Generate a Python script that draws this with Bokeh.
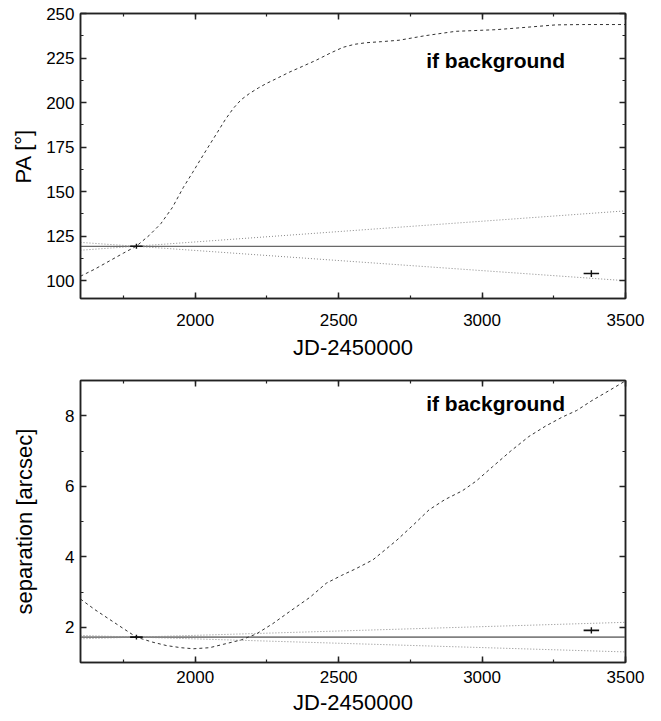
from bokeh.plotting import figure
from bokeh.layouts import column
from bokeh.models import LinearAxis, SingleIntervalTicker, Range1d, CustomJSTickFormatter
from bokeh.core.properties import value
from bokeh.embed import file_html
from bokeh.resources import INLINE

# ---------------- data ----------------
jd_range = [1600, 3500]
cone_jd = [1600, 3500]

# PA panel
pa_fit = 119.3
pa_cone_a = [117.1, 139.2]
pa_cone_b = [121.5, 100.0]
bg_jd_pa = [1600, 1650, 1700, 1750, 1795, 1840, 1880, 1920, 1959, 1990, 2017, 2045,
            2075, 2105, 2133, 2160, 2190, 2220, 2248, 2290, 2330, 2375, 2422, 2470,
            2515, 2555, 2596, 2650, 2711, 2800, 2908, 3000, 3047, 3150, 3256, 3350, 3500]
bg_pa = [102.5, 106.5, 111.0, 115.5, 119.4, 125.5, 132.0, 141.0, 152.5, 160.5, 167.7, 175.0,
         182.7, 190.5, 196.8, 201.6, 205.2, 208.2, 210.7, 214.0, 217.2, 220.4, 223.8, 227.7,
         231.0, 232.7, 233.6, 234.2, 235.0, 237.5, 240.0, 240.6, 240.9, 242.2, 243.6, 243.8, 243.8]
obs_jd = [1795, 3381]
obs_jd_err = [22, 27]
obs_pa = [119.3, 104.0]
obs_pa_err = [1.4, 1.9]

# separation panel
sep_fit = 1.72
sep_cone_a = [1.672, 2.14]
sep_cone_b = [1.768, 1.30]
bg_jd_sep = [1600, 1650, 1700, 1750, 1795, 1850, 1900, 1950, 1994, 2050, 2100, 2160, 2213,
             2270, 2330, 2400, 2457, 2510, 2560, 2619, 2700, 2760, 2815, 2870, 2931, 2980,
             3036, 3100, 3163, 3220, 3279, 3330, 3383, 3440, 3500]
bg_sep = [2.80, 2.50, 2.23, 1.96, 1.72, 1.58, 1.48, 1.42, 1.39, 1.42, 1.52, 1.64, 1.81,
          2.10, 2.45, 2.85, 3.25, 3.47, 3.66, 3.91, 4.45, 4.90, 5.33, 5.62, 5.87, 6.15,
          6.55, 7.00, 7.41, 7.70, 7.96, 8.15, 8.43, 8.70, 8.99]
obs_sep = [1.72, 1.91]
obs_sep_err = [0.07, 0.09]

label_text = "if background"
label_x = 2805
label_y_pa = 223.7
label_y_sep = 8.35

FONT = "Liberation Sans"
AX = "#222222"


def style_axis(ax, show_labels=True):
    ax.major_tick_in = 6
    ax.major_tick_out = 0
    ax.minor_tick_in = 3
    ax.minor_tick_out = 0
    ax.axis_line_color = AX
    ax.axis_line_width = 1.5
    ax.major_tick_line_color = AX
    ax.major_tick_line_width = 1.5
    ax.minor_tick_line_color = AX
    ax.minor_tick_line_width = 1.2
    ax.major_label_text_font = FONT
    ax.axis_label_text_font = FONT
    ax.axis_label_text_font_style = "normal"
    ax.axis_label_text_font_size = "22px"
    ax.axis_label_text_color = "black"
    if show_labels:
        ax.major_label_text_font_size = "17px"
        ax.major_label_text_color = "black"
    else:
        ax.formatter = CustomJSTickFormatter(code="return ''")
        ax.major_label_text_color = None
        ax.major_label_standoff = 0


def make_panel(height, yr, yint, top_border, bottom_border, ylabel, ylab_standoff,
               xlab_standoff, xaxlab_standoff):
    p = figure(width=650, height=height, output_backend="svg", toolbar_location=None,
               x_range=Range1d(*jd_range), y_range=Range1d(*yr),
               min_border_left=80, min_border_right=25,
               min_border_top=top_border, min_border_bottom=bottom_border)
    p.grid.visible = False
    p.outline_line_color = AX
    p.outline_line_width = 1.5
    p.background_fill_color = "white"
    p.border_fill_color = "white"

    p.xaxis.ticker = SingleIntervalTicker(interval=500, num_minor_ticks=2)
    p.yaxis.ticker = SingleIntervalTicker(interval=yint, num_minor_ticks=2)
    for ax in p.xaxis:
        style_axis(ax)
        ax.major_label_standoff = xlab_standoff
        ax.axis_label_standoff = xaxlab_standoff
        ax.axis_label = "JD-2450000"
    for ax in p.yaxis:
        style_axis(ax)
        ax.major_label_standoff = 6
        ax.axis_label_standoff = ylab_standoff
        ax.axis_label = ylabel

    top = LinearAxis(ticker=SingleIntervalTicker(interval=500, num_minor_ticks=2))
    style_axis(top, show_labels=False)
    p.add_layout(top, "above")
    right = LinearAxis(ticker=SingleIntervalTicker(interval=yint, num_minor_ticks=2))
    style_axis(right, show_labels=False)
    p.add_layout(right, "right")
    return p


# ---------------- PA panel ----------------
p1 = make_panel(365, (90, 250), 25, 13, 67, "PA [°]", 7, 15, 6)
p1.line(cone_jd, [pa_fit, pa_fit], line_color="#444444", line_width=1)
p1.line(cone_jd, pa_cone_a, line_color="#888888", line_width=1, line_dash="1 2")
p1.line(cone_jd, pa_cone_b, line_color="#888888", line_width=1, line_dash="1 2")
p1.line(bg_jd_pa, bg_pa, line_color="#333333", line_width=1, line_dash="3 3")
p1.segment(x0=[j - e for j, e in zip(obs_jd, obs_jd_err)], y0=obs_pa,
           x1=[j + e for j, e in zip(obs_jd, obs_jd_err)], y1=obs_pa,
           line_color="#111111", line_width=1.6)
p1.segment(x0=obs_jd, y0=[v - e for v, e in zip(obs_pa, obs_pa_err)],
           x1=obs_jd, y1=[v + e for v, e in zip(obs_pa, obs_pa_err)],
           line_color="#111111", line_width=1.4)
p1.text(x=[label_x], y=[label_y_pa], text=[label_text], text_font=value(FONT),
        text_font_style="bold", text_font_size="21px", text_baseline="middle",
        text_align="left", text_color="black")

# ---------------- separation panel ----------------
p2 = make_panel(355, (1, 9), 2, 15, 58, "separation [arcsec]", 25, 8, 4)
p2.line(cone_jd, [sep_fit, sep_fit], line_color="#808080", line_width=1.6)
p2.line(cone_jd, sep_cone_a, line_color="#888888", line_width=1, line_dash="1 2")
p2.line(cone_jd, sep_cone_b, line_color="#888888", line_width=1, line_dash="1 2")
p2.line(bg_jd_sep, bg_sep, line_color="#333333", line_width=1, line_dash="3 3")
p2.segment(x0=[j - e for j, e in zip(obs_jd, obs_jd_err)], y0=obs_sep,
           x1=[j + e for j, e in zip(obs_jd, obs_jd_err)], y1=obs_sep,
           line_color="#111111", line_width=1.6)
p2.segment(x0=obs_jd, y0=[v - e for v, e in zip(obs_sep, obs_sep_err)],
           x1=obs_jd, y1=[v + e for v, e in zip(obs_sep, obs_sep_err)],
           line_color="#111111", line_width=1.4)
p2.text(x=[label_x], y=[label_y_sep], text=[label_text], text_font=value(FONT),
        text_font_style="bold", text_font_size="21px", text_baseline="middle",
        text_align="left", text_color="black")

layout = column(p1, p2, spacing=0)
open("out.html", "w").write(file_html(layout, INLINE))
